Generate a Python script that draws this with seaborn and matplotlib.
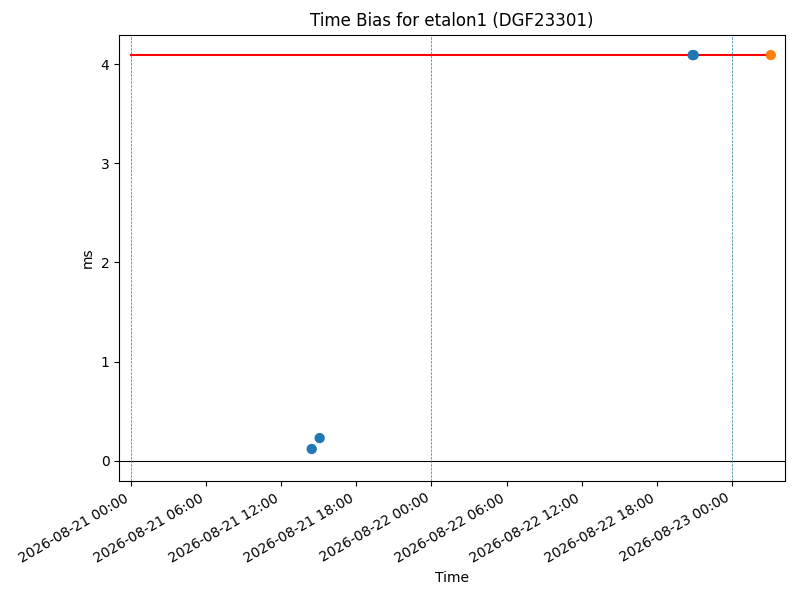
import numpy as np
import pandas as pd
import matplotlib
matplotlib.use('Agg')
import matplotlib.pyplot as plt
import matplotlib.dates as mdates
import seaborn as sns

# measured bias points
bias_times = ["2026-08-21 14:26", "2026-08-21 15:04", "2026-08-22 20:52", "2026-08-22 20:57"]
bias_ms = [0.12, 0.23, 4.09, 4.09]

# latest point
latest_time = ["2026-08-23 03:07"]
latest_ms = [4.09]

# reference level line
ref_times = ["2026-08-21 00:00", "2026-08-23 03:07"]
ref_ms = [4.09, 4.09]

day_marks = ["2026-08-21", "2026-08-22", "2026-08-23"]

df_bias = pd.DataFrame({"Time": pd.to_datetime(bias_times), "ms": bias_ms})
df_last = pd.DataFrame({"Time": pd.to_datetime(latest_time), "ms": latest_ms})
df_ref = pd.DataFrame({"Time": pd.to_datetime(ref_times), "ms": ref_ms})

fig, ax = plt.subplots(figsize=(8, 6), dpi=100)

sns.lineplot(data=df_ref, x="Time", y="ms", color="red", linewidth=1.5, ax=ax)
sns.scatterplot(data=df_bias, x="Time", y="ms", color="C0", s=55, edgecolor="none", ax=ax, zorder=3)
sns.scatterplot(data=df_last, x="Time", y="ms", color="C1", s=55, edgecolor="none", ax=ax, zorder=3)

ax.axhline(0, color="black", linewidth=0.8)
for d in day_marks:
    ax.axvline(pd.Timestamp(d), color="C0", linestyle="--", linewidth=0.5)

ax.set_xlim(pd.Timestamp("2026-08-20 23:03"), pd.Timestamp("2026-08-23 04:14"))
ax.set_ylim(-0.2045, 4.2945)
ax.yaxis.set_major_locator(plt.MultipleLocator(1))
ax.xaxis.set_major_locator(mdates.HourLocator(byhour=[0, 6, 12, 18]))
ax.xaxis.set_major_formatter(mdates.DateFormatter("%Y-%m-%d %H:%M"))

ax.set_title("Time Bias for etalon1 (DGF23301)")
ax.set_xlabel("Time")
ax.set_ylabel("ms")
fig.autofmt_xdate()
fig.subplots_adjust(left=0.149, right=0.981, top=0.942, bottom=0.198)

plt.savefig("out.png")
